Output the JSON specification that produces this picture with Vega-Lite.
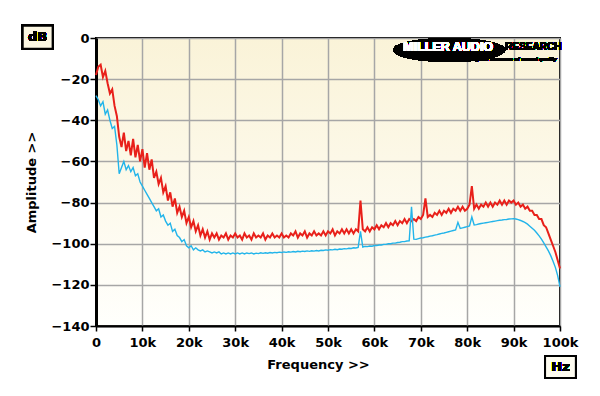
{
  "$schema": "https://vega.github.io/schema/vega-lite/v6.json",
  "width": 464,
  "height": 288,
  "autosize": {"type": "none"},
  "padding": {"left": 96, "top": 38, "right": 40, "bottom": 70},
  "background": "#ffffff",
  "config": {
    "view": {"stroke": "#000000", "strokeWidth": 2, "fill": {"gradient": "linear", "x1": 0, "y1": 0, "x2": 0, "y2": 1, "stops": [{"offset": 0, "color": "#faf3d8"}, {"offset": 1, "color": "#fffffc"}]}},
    "font": "DejaVu Sans",
    "axis": {"labelFont": "DejaVu Sans", "labelFontWeight": "bold", "labelFontSize": 13, "labelColor": "#000", "titleFont": "DejaVu Sans", "titleFontWeight": "bold", "titleFontSize": 13, "titleColor": "#000", "gridColor": "#a6a6a6", "gridWidth": 1.5, "gridOpacity": 1, "tickColor": "#000", "tickSize": 5, "tickWidth": 1.5, "domainColor": "#000"}
  },
  "data": {"values": [
{"f":0,"r":-18,"b":-28},{"f":500,"r":-14,"b":-30},{"f":1000,"r":-13,"b":-33},{"f":1500,"r":-19,"b":-31},{"f":2000,"r":-16,"b":-37},{"f":2500,"r":-22,"b":-35},{"f":3000,"r":-27,"b":-40},{"f":3500,"r":-25,"b":-44},{"f":4000,"r":-33,"b":-43},{"f":4500,"r":-38,"b":-52},
{"f":5000,"r":-48,"b":-66},{"f":5500,"r":-53,"b":-63},{"f":6000,"r":-46,"b":-60},{"f":6500,"r":-55,"b":-64},{"f":7000,"r":-50,"b":-62},{"f":7500,"r":-57,"b":-65},{"f":8000,"r":-49,"b":-63},{"f":8500,"r":-58,"b":-67},{"f":9000,"r":-52,"b":-66},{"f":9500,"r":-60,"b":-70},
{"f":10000,"r":-54,"b":-72},{"f":10500,"r":-63,"b":-74},{"f":11000,"r":-56,"b":-76},{"f":11500,"r":-64,"b":-78},{"f":12000,"r":-59,"b":-80},{"f":12500,"r":-68,"b":-82},{"f":13000,"r":-65,"b":-84},{"f":13500,"r":-71,"b":-83},{"f":14000,"r":-68,"b":-87},{"f":14500,"r":-75,"b":-86},
{"f":15000,"r":-72,"b":-89},{"f":15500,"r":-79,"b":-91},{"f":16000,"r":-75,"b":-90},{"f":16500,"r":-82,"b":-94},{"f":17000,"r":-78,"b":-93},{"f":17500,"r":-85,"b":-96},{"f":18000,"r":-82,"b":-97},{"f":18500,"r":-87,"b":-99},{"f":19000,"r":-84,"b":-98},{"f":19500,"r":-90,"b":-101},
{"f":20000,"r":-87,"b":-102},{"f":20500,"r":-92,"b":-101},{"f":21000,"r":-89,"b":-103},{"f":21500,"r":-94,"b":-102},{"f":22000,"r":-91,"b":-103},{"f":22500,"r":-96,"b":-103.5},{"f":23000,"r":-93,"b":-103},{"f":23500,"r":-97,"b":-104},{"f":24000,"r":-94,"b":-103.5},{"f":24500,"r":-98,"b":-104},
{"f":25000,"r":-95,"b":-104.5},{"f":25500,"r":-97,"b":-104},{"f":26000,"r":-95,"b":-104.5},{"f":26500,"r":-98,"b":-104},{"f":27000,"r":-96,"b":-105},{"f":27500,"r":-97,"b":-104.5},{"f":28000,"r":-95,"b":-105},{"f":28500,"r":-98,"b":-104.5},{"f":29000,"r":-96,"b":-105},{"f":29500,"r":-97,"b":-104.5},
{"f":30000,"r":-95,"b":-105},{"f":30500,"r":-97,"b":-104.5},{"f":31000,"r":-96,"b":-105},{"f":31500,"r":-98,"b":-104.5},{"f":32000,"r":-95,"b":-105},{"f":32500,"r":-97,"b":-104.5},{"f":33000,"r":-96,"b":-104.8},{"f":33500,"r":-98,"b":-104.5},{"f":34000,"r":-95,"b":-105},{"f":34500,"r":-97,"b":-104.6},
{"f":35000,"r":-96,"b":-104.8},{"f":35500,"r":-97,"b":-104.4},{"f":36000,"r":-95,"b":-104.7},{"f":36500,"r":-98,"b":-104.4},{"f":37000,"r":-96,"b":-104.6},{"f":37500,"r":-97,"b":-104.3},{"f":38000,"r":-95,"b":-104.5},{"f":38500,"r":-97,"b":-104.2},{"f":39000,"r":-96,"b":-104.4},{"f":39500,"r":-97,"b":-104.1},
{"f":40000,"r":-95,"b":-104.3},{"f":40500,"r":-97,"b":-104},{"f":41000,"r":-96,"b":-104.2},{"f":41500,"r":-97,"b":-103.9},{"f":42000,"r":-95,"b":-104.1},{"f":42500,"r":-96,"b":-103.8},{"f":43000,"r":-94,"b":-104},{"f":43500,"r":-97,"b":-103.7},{"f":44000,"r":-95,"b":-103.9},{"f":44500,"r":-96,"b":-103.6},
{"f":45000,"r":-94,"b":-103.8},{"f":45500,"r":-97,"b":-103.5},{"f":46000,"r":-95,"b":-103.7},{"f":46500,"r":-96,"b":-103.4},{"f":47000,"r":-94,"b":-103.6},{"f":47500,"r":-96,"b":-103.3},{"f":48000,"r":-95,"b":-103.5},{"f":48500,"r":-96,"b":-103.2},{"f":49000,"r":-94,"b":-103.3},{"f":49500,"r":-96,"b":-103},
{"f":50000,"r":-94,"b":-103.2},{"f":50500,"r":-95,"b":-102.9},{"f":51000,"r":-93,"b":-103},{"f":51500,"r":-96,"b":-102.7},{"f":52000,"r":-94,"b":-102.9},{"f":52500,"r":-95,"b":-102.6},{"f":53000,"r":-93,"b":-102.7},{"f":53500,"r":-95,"b":-102.4},{"f":54000,"r":-93,"b":-102.5},{"f":54500,"r":-95,"b":-102.2},
{"f":55000,"r":-93,"b":-102.3},{"f":55500,"r":-95,"b":-102},{"f":56000,"r":-93,"b":-102.1},{"f":56500,"r":-94,"b":-101.8},{"f":57000,"r":-79,"b":-94},{"f":57500,"r":-93,"b":-101.6},{"f":58000,"r":-94,"b":-101.3},{"f":58500,"r":-92,"b":-101.4},{"f":59000,"r":-94,"b":-101.1},{"f":59500,"r":-92,"b":-101.2},
{"f":60000,"r":-93,"b":-100.9},{"f":60500,"r":-91,"b":-100.9},{"f":61000,"r":-93,"b":-100.6},{"f":61500,"r":-91,"b":-100.6},{"f":62000,"r":-92,"b":-100.3},{"f":62500,"r":-90,"b":-100.3},{"f":63000,"r":-92,"b":-100},{"f":63500,"r":-90,"b":-100},{"f":64000,"r":-91,"b":-99.7},{"f":64500,"r":-89,"b":-99.7},
{"f":65000,"r":-91,"b":-99.4},{"f":65500,"r":-89,"b":-99.3},{"f":66000,"r":-90,"b":-99},{"f":66500,"r":-88,"b":-99},{"f":67000,"r":-90,"b":-98.7},{"f":67500,"r":-88,"b":-98.6},{"f":68000,"r":-89,"b":-82},{"f":68500,"r":-88,"b":-97.8},{"f":69000,"r":-89,"b":-97.9},{"f":69500,"r":-87,"b":-97.5},
{"f":70000,"r":-88,"b":-97.2},{"f":70500,"r":-86,"b":-97.1},{"f":71000,"r":-78,"b":-96.8},{"f":71500,"r":-87,"b":-96.6},{"f":72000,"r":-86,"b":-96.3},{"f":72500,"r":-87,"b":-96.1},{"f":73000,"r":-85,"b":-95.8},{"f":73500,"r":-86,"b":-95.6},{"f":74000,"r":-84,"b":-95.3},{"f":74500,"r":-86,"b":-95},
{"f":75000,"r":-84,"b":-94.8},{"f":75500,"r":-85,"b":-94.5},{"f":76000,"r":-83,"b":-94.2},{"f":76500,"r":-85,"b":-93.9},{"f":77000,"r":-83,"b":-93.6},{"f":77500,"r":-84,"b":-93.3},{"f":78000,"r":-82,"b":-89.6},{"f":78500,"r":-84,"b":-92.6},{"f":79000,"r":-82,"b":-92.3},{"f":79500,"r":-84,"b":-92},
{"f":80000,"r":-83,"b":-91.7},{"f":80500,"r":-81,"b":-91.4},{"f":81000,"r":-72,"b":-87},{"f":81500,"r":-83,"b":-90.9},{"f":82000,"r":-81,"b":-90.7},{"f":82500,"r":-83,"b":-90.4},{"f":83000,"r":-81,"b":-90.2},{"f":83500,"r":-82,"b":-90},{"f":84000,"r":-80,"b":-89.8},{"f":84500,"r":-82,"b":-89.6},
{"f":85000,"r":-80,"b":-89.4},{"f":85500,"r":-82,"b":-89.2},{"f":86000,"r":-80,"b":-89},{"f":86500,"r":-81,"b":-88.8},{"f":87000,"r":-79,"b":-88.6},{"f":87500,"r":-81,"b":-88.5},{"f":88000,"r":-79,"b":-88.3},{"f":88500,"r":-81,"b":-88.2},{"f":89000,"r":-79,"b":-88},{"f":89500,"r":-80,"b":-87.9},
{"f":90000,"r":-79,"b":-87.8},{"f":90500,"r":-81,"b":-88},{"f":91000,"r":-80,"b":-88.3},{"f":91500,"r":-82,"b":-88.7},{"f":92000,"r":-81,"b":-89.2},{"f":92500,"r":-83,"b":-89.8},{"f":93000,"r":-82,"b":-90.5},{"f":93500,"r":-84,"b":-91.5},{"f":94000,"r":-84,"b":-92.5},{"f":94500,"r":-86,"b":-93.5},
{"f":95000,"r":-86,"b":-94.8},{"f":95500,"r":-88,"b":-96.2},{"f":96000,"r":-88,"b":-97.8},{"f":96500,"r":-91,"b":-99.6},{"f":97000,"r":-92,"b":-101.5},{"f":97500,"r":-95,"b":-103.5},{"f":98000,"r":-98,"b":-105.8},{"f":98500,"r":-101,"b":-108.5},{"f":99000,"r":-104,"b":-111.5},{"f":99500,"r":-108,"b":-115.5},
{"f":100000,"r":-112,"b":-121}
  ]},
  "encoding": {
    "x": {"field": "f", "type": "quantitative", "scale": {"domain": [0, 100000], "nice": false, "zero": false},
      "axis": {"values": [0,10000,20000,30000,40000,50000,60000,70000,80000,90000,100000], "labelExpr": "datum.value == 0 ? '0' : (datum.value / 1000) + 'k'", "title": "Frequency >>", "titlePadding": 9, "titleX": 222, "labelPadding": 5, "domainWidth": 2, "labelFlush": false}}
  },
  "layer": [
    {"mark": {"type": "line", "color": "#e8201a", "strokeWidth": 2, "interpolate": "linear"},
     "encoding": {"y": {"field": "r", "type": "quantitative", "scale": {"domain": [-140, 0], "nice": false, "zero": false},
       "axis": {"values": [-140,-120,-100,-80,-60,-40,-20,0], "title": "Amplitude >>", "titlePadding": 12, "labelPadding": 1, "tickSize": 6, "domainWidth": 3}}}},
    {"mark": {"type": "line", "color": "#22b4ea", "strokeWidth": 1.4},
     "encoding": {"y": {"field": "b", "type": "quantitative"}}},
    {"mark": {"type": "point", "shape": "M -1.3 -1 L 1.3 -1 L 1.3 1 L -1.3 1 Z", "size": 529, "filled": true, "fill": "#fbf6e2", "stroke": "#000", "strokeWidth": 2, "opacity": 1},
     "encoding": {"x": {"datum": -12570, "type": "quantitative"}, "y": {"datum": 0.4, "type": "quantitative"}}},
    {"mark": {"type": "text", "text": "dB", "font": "DejaVu Sans", "fontWeight": "bold", "fontSize": 13, "color": "#000", "align": "center", "baseline": "middle"},
     "encoding": {"x": {"datum": -12570, "type": "quantitative"}, "y": {"datum": 0.4, "type": "quantitative"}}},
    {"mark": {"type": "point", "shape": "M -1.4 -1 L 1.4 -1 L 1.4 1 L -1.4 1 Z", "size": 484, "filled": true, "fill": "#fdfbf0", "stroke": "#000", "strokeWidth": 2, "opacity": 1},
     "encoding": {"x": {"datum": 100100, "type": "quantitative"}, "y": {"datum": -159.9, "type": "quantitative"}}},
    {"mark": {"type": "text", "text": "Hz", "font": "DejaVu Sans", "fontWeight": "bold", "fontSize": 13, "color": "#000", "align": "center", "baseline": "middle"},
     "encoding": {"x": {"datum": 100100, "type": "quantitative"}, "y": {"datum": -159.9, "type": "quantitative"}}},
    {"mark": {"type": "point", "shape": "M -2.8 0 A 2.8 0.6 0 1 0 2.8 0 A 2.8 0.6 0 1 0 -2.8 0 Z", "size": 1600, "filled": true, "fill": "#000", "opacity": 1},
     "encoding": {"x": {"datum": 76100, "type": "quantitative"}, "y": {"datum": -5.8, "type": "quantitative"}}},
    {"mark": {"type": "text", "text": "MILLER AUDIO", "font": "Liberation Sans", "fontWeight": "bold", "fontSize": 12.5, "color": "#ffffff", "align": "center", "baseline": "middle"},
     "encoding": {"x": {"datum": 75900, "type": "quantitative"}, "y": {"datum": -4.5, "type": "quantitative"}}},
    {"mark": {"type": "text", "text": "RESEARCH", "font": "Liberation Sans", "fontWeight": "bold", "fontSize": 10, "color": "#000000", "align": "left", "baseline": "middle"},
     "encoding": {"x": {"datum": 88200, "type": "quantitative"}, "y": {"datum": -4.5, "type": "quantitative"}}},
    {"mark": {"type": "text", "text": "Getting the measure of sound quality", "font": "Liberation Sans", "fontWeight": "bold", "fontStyle": "italic", "fontSize": 5.5, "color": "#000000", "align": "right", "baseline": "middle"},
     "encoding": {"x": {"datum": 99300, "type": "quantitative"}, "y": {"datum": -10.2, "type": "quantitative"}}}
  ]
}
